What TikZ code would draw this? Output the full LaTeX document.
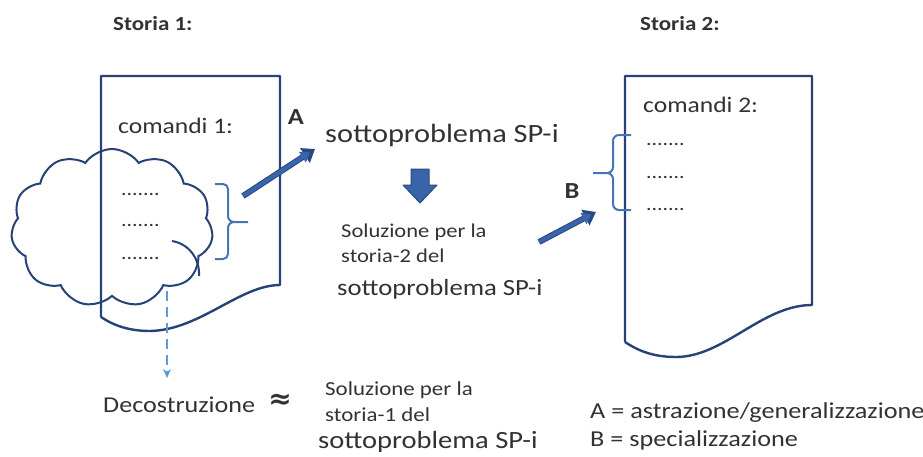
\documentclass[tikz,border=0pt]{standalone}
\usepackage{fontspec}
\setmainfont[FakeStretch=1.15]{Carlito}
\newfontfamily\symfont{DejaVu Sans}
\usetikzlibrary{shapes.symbols,arrows.meta,calc}
\definecolor{docblue}{RGB}{38,66,118}
\definecolor{brblue}{RGB}{70,116,180}
\definecolor{arblue}{RGB}{58,100,170}
\definecolor{aredge}{RGB}{40,72,130}
\definecolor{dashblue}{RGB}{91,155,213}
\definecolor{txt}{RGB}{50,50,50}
\newcommand{\fsz}[1]{\fontsize{#1}{#1}\selectfont}
\tikzset{
  doc/.style={draw=docblue,line width=2.4pt,line join=round},
  brk/.style={draw=brblue,line width=2pt},
  txtnode/.style={text=txt,inner sep=0pt,anchor=base west},
  hdr/.style={txtnode,font=\bfseries\fsz{20}},
  dots/.style={txtnode,font=\fsz{19}},
  letter/.style={text=txt,inner sep=0pt,font=\bfseries\fsz{23}},
  big/.style={draw=aredge,line width=6pt,-{Triangle[length=12pt,width=17pt]}},
  bigin/.style={draw=arblue,line width=4pt,-{Triangle[length=9pt,width=12pt]}},
}
\begin{document}
\begin{tikzpicture}[x=1pt,y=-1pt]
\useasboundingbox (0,0) rectangle (923,456);
% headers
\node[hdr] (h1) at (113,30) {Storia 1:};
\node[hdr] (h2) at (640,30) {Storia 2:};
% document 1
\draw[doc] (101,317) -- (101,76) -- (280,76) -- (280,285)
  .. controls (240,285) and (200,330) .. (150,331)
  .. controls (125,331) and (110,323) .. (101,317);
% cloud
\node[cloud,cloud puffs=11,cloud puff arc=110,draw=docblue,line width=2pt,
  minimum width=202pt,minimum height=158pt,aspect=1.3] (cloud) at (112,228) {};
\draw[draw=docblue,line width=2pt] (172,241) .. controls (190,244) and (200,260) .. (199,276);
\node[txtnode,font=\fsz{22.2}] (c1) at (118,133) {comandi 1:};
\node[dots] (d11) at (121,195) {.......};
\node[dots] (d12) at (121,226) {.......};
\node[dots] (d13) at (121,259) {.......};
% brace 1
\coordinate (b1tip) at (248,222);
\draw[brk] (215,184) -- (223,184) to[out=0,in=90] (228,189) -- (228,216)
  to[out=-90,in=180] (234,222) -- (b1tip);
\draw[brk] (215,259) -- (223,259) to[out=0,in=-90] (228,254) -- (228,228)
  to[out=90,in=180] (234,222);
% document 2
\draw[doc] (625,342) -- (625,76) -- (812,76) -- (812,305)
  .. controls (762,305) and (724,357) .. (676,357)
  .. controls (652,357) and (637,350) .. (625,342);
\node[txtnode,font=\fsz{22.2}] (c2) at (643,112) {comandi 2:};
\node[dots] (d21) at (646,145) {.......};
\node[dots] (d22) at (646,178) {.......};
\node[dots] (d23) at (646,210) {.......};
% brace 2
\coordinate (b2tip) at (593,173);
\draw[brk] (631,135) -- (619,135) to[out=180,in=90] (613,141) -- (613,167)
  to[out=-90,in=0] (607,173) -- (b2tip);
\draw[brk] (631,210) -- (619,210) to[out=180,in=-90] (613,204) -- (613,179)
  to[out=90,in=0] (607,173);
% middle texts
\node[txtnode,font=\fsz{26.4}] (sp) at (325,142) {sottoproblema SP-i};
\node[txtnode,font=\fsz{19.6}] (s21) at (341,237) {Soluzione per la};
\node[txtnode,font=\fsz{19.6}] (s22) at (341,262) {storia-2 del};
\node[txtnode,font=\fsz{23.2}] (s23) at (337,295) {sottoproblema SP-i};
\node[letter] (la) at (296,117) {A};
\node[letter] (lb) at (572,191) {B};
% arrow A
\coordinate (aS) at (243,196);
\coordinate (aE) at (315,149);
\draw[big] (aS) -- (aE);
\draw[bigin] (aS) -- ($(aS)!0.93!(aE)$);
% arrow B
\coordinate (bS) at (539,242);
\coordinate (bE) at (596,212);
\draw[big] (bS) -- (bE);
\draw[bigin] (bS) -- ($(bS)!0.92!(bE)$);
% down block arrow
\draw[fill=arblue,draw=aredge,line width=1pt,line join=round]
  (411,169) -- (429,169) -- (429,185) -- (437,185) -- (420,203) -- (403,185) -- (411,185) -- cycle;
% dashed arrow
\coordinate (dS) at (167,291);
\coordinate (dE) at (167,378);
\draw[draw=dashblue,line width=2pt,dash pattern=on 10pt off 6pt,-{Stealth[length=9pt,width=8pt]}] (dS) -- (dE);
% bottom texts
\node[txtnode,font=\fsz{22.7}] (dec) at (103,412) {Decostruzione};
\node[text=txt,font=\symfont\bfseries\fsz{28},inner sep=0pt] (approx) at (280,401) {≈};
\node[txtnode,font=\fsz{19.9}] (s11) at (325,395) {Soluzione per la};
\node[txtnode,font=\fsz{19.9}] (s12) at (325,421) {storia-1 del};
\node[txtnode,font=\fsz{24.8}] (s13) at (318,448) {sottoproblema SP-i};
\node[txtnode,font=\fsz{22.8}] (ka) at (590,418) {A = astrazione/generalizzazione};
\node[txtnode,font=\fsz{22.8}] (kb) at (590,446) {B = specializzazione};
\end{tikzpicture}
\end{document}
